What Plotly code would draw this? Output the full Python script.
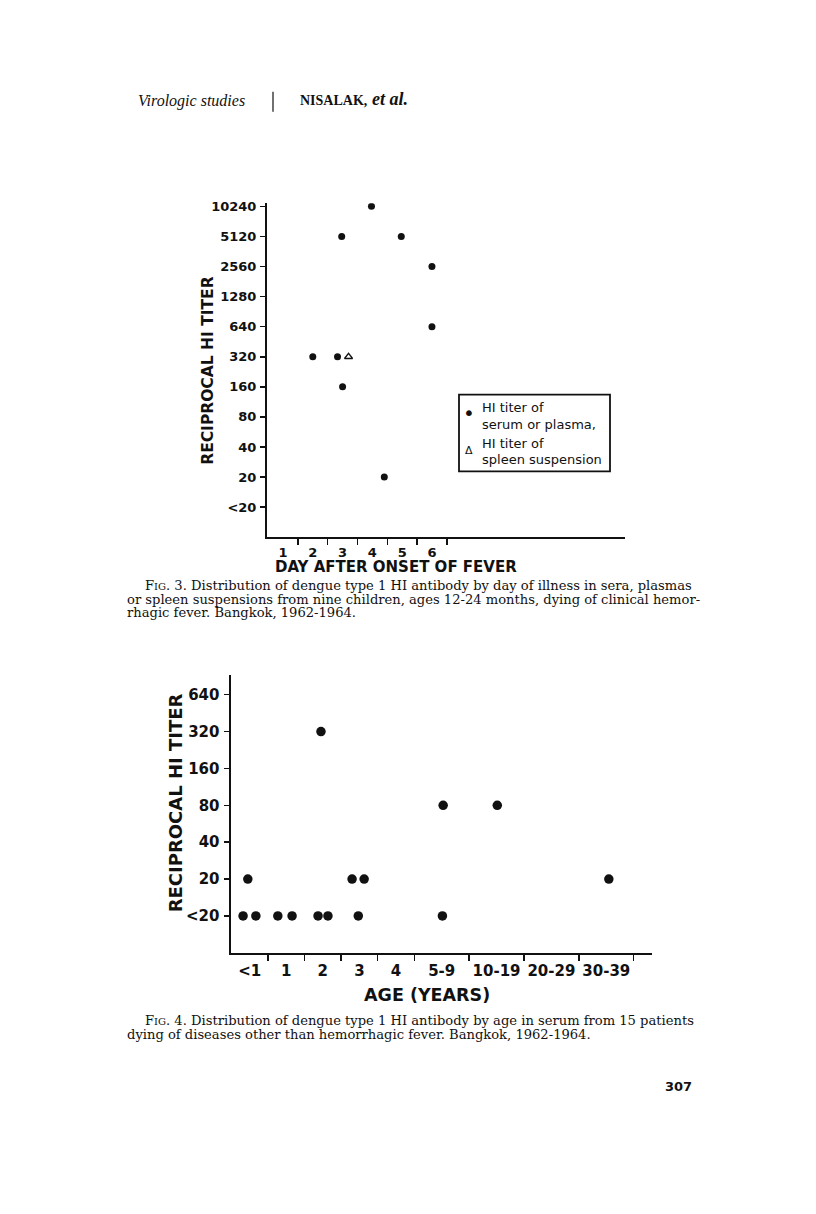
import plotly.graph_objects as go

W, H = 816, 1214

# ---------------- data ----------------
titer_labels = ["<20", "20", "40", "80", "160", "320", "640", "1280", "2560", "5120", "10240"]

# Fig. 3 : day after onset of fever vs reciprocal HI titer
day_labels = ["1", "2", "3", "4", "5", "6"]
serum_day = [2, 3, 3, 3, 4, 4, 5, 6, 6]
serum_jitter = [0.0, -0.17, -0.03, 0.0, -0.03, 0.40, -0.03, 0.0, 0.0]
serum_titer = ["320", "320", "5120", "160", "10240", "20", "5120", "2560", "640"]
spleen_day = [3]
spleen_jitter = [0.20]
spleen_titer = ["320"]

# Fig. 4 : age (years) vs reciprocal HI titer
age_groups = ["<1", "1", "2", "3", "4", "5-9", "10-19", "20-29", "30-39"]
age_group_widths = [1, 1, 1, 1, 1, 1.5, 1.5, 1.5, 1.5]
age_titer_labels = ["<20", "20", "40", "80", "160", "320", "640"]
pt_group = ["<1", "<1", "1", "1", "2", "2", "3", "5-9",
            "<1", "3", "3", "30-39", "5-9", "10-19", "2"]
pt_jitter = [-0.18, 0.17, -0.23, 0.16, -0.13, 0.14, -0.03, 0.02,
             -0.05, -0.20, 0.13, 0.07, 0.04, 0.02, -0.05]
pt_titer = ["<20", "<20", "<20", "<20", "<20", "<20", "<20", "<20",
            "20", "20", "20", "20", "80", "80", "320"]

# ---------------- helpers ----------------
def px(x):
    return x / W

def py(y):
    return 1 - y / H

SANS = "DejaVu Sans"
SERIF = "DejaVu Serif"
HSERIF = "Liberation Serif"
INK = "#111111"

# Fig 3 coordinates
x3 = [d + j for d, j in zip(serum_day, serum_jitter)]
y3 = [titer_labels.index(t) for t in serum_titer]
x3s = [d + j for d, j in zip(spleen_day, spleen_jitter)]
y3s = [titer_labels.index(t) for t in spleen_titer]

# Fig 4 coordinates: variable width age groups
edges = [-1.0]
for w in age_group_widths:
    edges.append(edges[-1] + w)
centers = [(a + b) / 2 for a, b in zip(edges[:-1], edges[1:])]
center_of = dict(zip(age_groups, centers))
x4 = [center_of[g] + j for g, j in zip(pt_group, pt_jitter)]
y4 = [age_titer_labels.index(t) for t in pt_titer]

fig = go.Figure()

fig.add_trace(go.Scatter(x=x3, y=y3, mode="markers", xaxis="x", yaxis="y",
                         marker=dict(color=INK, size=7, symbol="circle"),
                         showlegend=False, hoverinfo="skip"))
fig.add_trace(go.Scatter(x=x3s, y=y3s, mode="markers", xaxis="x", yaxis="y",
                         marker=dict(color=INK, size=7, symbol="triangle-up-open",
                                     line=dict(width=1.3, color=INK)),
                         showlegend=False, hoverinfo="skip"))
fig.add_trace(go.Scatter(x=x4, y=y4, mode="markers", xaxis="x2", yaxis="y2",
                         marker=dict(color=INK, size=9.5, symbol="circle"),
                         showlegend=False, hoverinfo="skip"))

# ---------------- axes ----------------
common_axis = dict(showgrid=False, zeroline=False, showline=True, linecolor=INK,
                   mirror=False, tickcolor=INK, fixedrange=True)

fig.update_layout(
    width=W, height=H, autosize=False,
    margin=dict(l=0, r=0, t=0, b=0),
    paper_bgcolor="white", plot_bgcolor="white",
    showlegend=False,
    xaxis=dict(**common_axis, domain=[px(267), px(625)], range=[0.463, 12.48],
               anchor="y", linewidth=2,
               tickmode="array", tickvals=list(range(1, len(day_labels) + 1)),
               ticktext=day_labels, ticks="outside", ticklen=0,
               ticklabelstandoff=2,
               tickfont=dict(family=SANS, size=13, color=INK, weight="bold"),
               minor=dict(tickmode="array",
                          tickvals=[d + 0.5 for d in range(1, len(day_labels) + 1)],
                          ticks="outside", ticklen=6, tickwidth=1.5, tickcolor=INK)),
    yaxis=dict(**common_axis, domain=[py(535), py(200)], range=[-1, 10.1],
               anchor="x", linewidth=2,
               tickmode="array", tickvals=list(range(len(titer_labels))),
               ticktext=titer_labels, ticks="outside", ticklen=5, tickwidth=1.5,
               ticklabelstandoff=1,
               tickfont=dict(family=SANS, size=13, color=INK, weight="bold")),
    xaxis2=dict(**common_axis, domain=[px(231), px(652)], range=[-1.01, 10.5],
                anchor="y2", linewidth=2.5,
                tickmode="array", tickvals=centers, ticktext=age_groups,
                ticks="outside", ticklen=0, ticklabelstandoff=3,
                tickfont=dict(family=SANS, size=15, color=INK, weight="bold"),
                minor=dict(tickmode="array", tickvals=edges[1:],
                           ticks="outside", ticklen=6, tickwidth=1.5, tickcolor=INK)),
    yaxis2=dict(**common_axis, domain=[py(952), py(673)], range=[-1, 6.54],
                anchor="x2", linewidth=2.5,
                tickmode="array", tickvals=list(range(len(age_titer_labels))),
                ticktext=age_titer_labels, ticks="outside", ticklen=5, tickwidth=1.5,
                ticklabelstandoff=1,
                tickfont=dict(family=SANS, size=15, color=INK, weight="bold")),
)

# ---------------- text ----------------
ann = []

def text(x, y, s, size, family=SANS, xanchor="left", yanchor="middle", angle=0,
         weight="normal", style="normal"):
    ann.append(dict(x=px(x), y=py(y), xref="paper", yref="paper", text=s,
                    showarrow=False, xanchor=xanchor, yanchor=yanchor,
                    textangle=angle, align="left",
                    font=dict(family=family, size=size, color=INK,
                              weight=weight, style=style)))

# running header
text(136, 97, "Virologic studies", 16, family=HSERIF, style="italic")
text(298, 97, "NISALAK,", 14, family=HSERIF, weight="bold")
text(370, 95, "et al.", 18, family=HSERIF, weight="bold", style="italic")

# Fig 3 axis titles
text(208, 368, "RECIPROCAL HI TITER", 15.5, angle=-90, xanchor="center", weight="bold")
text(396, 565, "DAY AFTER ONSET OF FEVER", 15, xanchor="center", weight="bold")

# Fig 3 legend
text(469, 410, "•", 20, xanchor="center")
text(480, 405, "HI titer of", 13)
text(480, 422, "serum or plasma,", 13)
text(469, 448, "Δ", 11, xanchor="center")
text(480, 441, "HI titer of", 13)
text(480, 457, "spleen suspension", 13)

# Fig 3 caption
sc = "<span style='font-size:10px'>IG</span>"
CAP = 13.1
text(143, 583, "F" + sc + ". 3. Distribution of dengue type 1 HI antibody by day of illness in sera, plasmas", CAP, family=SERIF)
text(125, 597, "or spleen suspensions from nine children, ages 12-24 months, dying of clinical hemor-", CAP, family=SERIF)
text(125, 611, "rhagic fever. Bangkok, 1962-1964.", CAP, family=SERIF)

# Fig 4 axis titles
text(175, 802, "RECIPROCAL HI TITER", 18, angle=-90, xanchor="center", weight="bold")
text(427, 994, "AGE (YEARS)", 17.5, xanchor="center", weight="bold")

# Fig 4 caption
text(143, 1020, "F" + sc + ". 4. Distribution of dengue type 1 HI antibody by age in serum from 15 patients", CAP, family=SERIF)
text(125, 1034, "dying of diseases other than hemorrhagic fever. Bangkok, 1962-1964.", CAP, family=SERIF)

# page number
text(694, 1086, "307", 13, xanchor="right", weight="bold")

fig.update_layout(annotations=ann)

shapes = [
    # header divider
    dict(type="line", xref="paper", yref="paper", x0=px(273), x1=px(273),
         y0=py(88), y1=py(108), line=dict(color=INK, width=1.2)),
    # legend frame
    dict(type="rect", xref="paper", yref="paper", x0=px(459), x1=px(610),
         y0=py(469), y1=py(392), line=dict(color=INK, width=1.8)),
]
fig.update_layout(shapes=shapes)

fig.write_html("out.html",
               config={"displayModeBar": False, "staticPlot": True},
               post_script="document.body.style.margin='0';document.body.style.padding='0';")
